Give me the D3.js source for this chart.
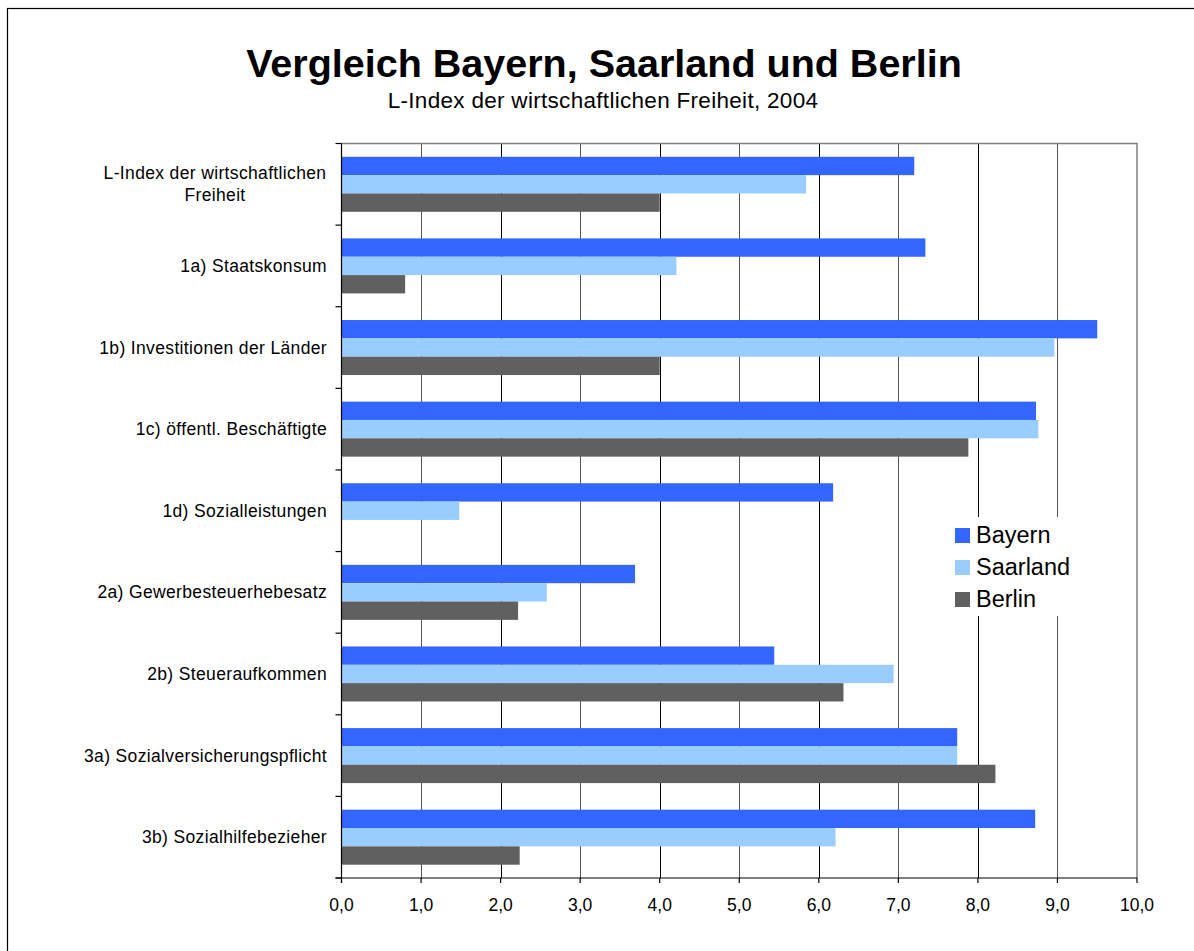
<!DOCTYPE html>
<html>
<head>
<meta charset="utf-8">
<script src="https://cdn.jsdelivr.net/npm/d3@7"></script>
<style>
  body { margin: 0; background: #fff; }
  text { font-family: "Liberation Sans", Arial, sans-serif; fill: #000; }
</style>
</head>
<body>
<div id="chart"></div>
<script>
// ==== Data ====
const categories = [
  "L-Index der wirtschaftlichen Freiheit",
  "1a) Staatskonsum",
  "1b) Investitionen der Länder",
  "1c) öffentl. Beschäftigte",
  "1d) Sozialleistungen",
  "2a) Gewerbesteuerhebesatz",
  "2b) Steueraufkommen",
  "3a) Sozialversicherungspflicht",
  "3b) Sozialhilfebezieher"
];
const seriesNames = ["Bayern", "Saarland", "Berlin"];
const bayern   = [7.20, 7.34, 9.50, 8.73, 6.18, 3.69, 5.44, 7.74, 8.72];
const saarland = [5.84, 4.21, 8.96, 8.76, 1.48, 2.58, 6.94, 7.74, 6.21];
const berlin   = [4.00, 0.80, 4.00, 7.88, 0.00, 2.22, 6.31, 8.22, 2.24];
const xTicks = [0, 1, 2, 3, 4, 5, 6, 7, 8, 9, 10];

const colors = { Bayern: "#3366ff", Saarland: "#99ccff", Berlin: "#606060" };

// ==== Setup ====
const width = 1194, height = 951;
const plot = { left: 341.5, right: 1137, top: 143.5, bottom: 878 };

const svg = d3.select("#chart").append("svg")
  .attr("width", width)
  .attr("height", height);

// outer chart frame (runs off right/bottom edge)
svg.append("rect")
  .attr("x", 7.5).attr("y", 8.5)
  .attr("width", 1200).attr("height", 1000)
  .attr("fill", "none").attr("stroke", "#000").attr("stroke-width", 1.2);

// titles
svg.append("text")
  .attr("x", 604).attr("y", 77)
  .attr("text-anchor", "middle")
  .attr("font-size", 39.5).attr("font-weight", "bold")
  .text("Vergleich Bayern, Saarland und Berlin");
svg.append("text")
  .attr("x", 603).attr("y", 108)
  .attr("text-anchor", "middle")
  .attr("font-size", 22.5)
  .attr("letter-spacing", 0.3)
  .text("L-Index der wirtschaftlichen Freiheit, 2004");

// scales
const x = d3.scaleLinear().domain([0, 10]).range([plot.left, plot.right]);
const y = d3.scaleBand().domain(categories)
  .range([plot.top, plot.bottom])
  .paddingInner(0.326).paddingOuter(0.163);
const ySub = d3.scaleBand().domain(seriesNames).range([0, y.bandwidth()]);

const rows = categories.map((c, i) => ({
  cat: c,
  values: [
    { name: "Bayern", v: bayern[i] },
    { name: "Saarland", v: saarland[i] },
    { name: "Berlin", v: berlin[i] }
  ]
}));

// gridlines
svg.append("g").selectAll("line")
  .data(xTicks.slice(1, -1))
  .join("line")
  .attr("x1", d => Math.round(x(d)) + 0.5).attr("x2", d => Math.round(x(d)) + 0.5)
  .attr("y1", plot.top).attr("y2", plot.bottom)
  .attr("stroke", d => d % 2 ? "#555" : "#000").attr("stroke-width", 1);

// plot border top/right (gray)
svg.append("path")
  .attr("d", `M${plot.left},${plot.top}H${plot.right}V${plot.bottom}`)
  .attr("fill", "none").attr("stroke", "#808080").attr("stroke-width", 1.5);

// bars
const groups = svg.append("g").selectAll("g")
  .data(rows)
  .join("g")
  .attr("transform", d => `translate(0,${y(d.cat)})`);

groups.selectAll("rect")
  .data(d => d.values)
  .join("rect")
  .attr("x", x(0))
  .attr("y", d => ySub(d.name))
  .attr("width", d => x(d.v) - x(0))
  .attr("height", ySub.bandwidth())
  .attr("fill", d => colors[d.name]);

// left axis with ticks at category boundaries
const step = y.step();
const boundaries = categories.map(c => y(c) - step * y.paddingInner() / 2)
  .concat([y(categories[categories.length - 1]) + y.bandwidth() + step * y.paddingInner() / 2]);

svg.append("line")
  .attr("x1", plot.left).attr("x2", plot.left)
  .attr("y1", plot.top).attr("y2", plot.bottom + 5)
  .attr("stroke", "#000").attr("stroke-width", 1.2);
svg.append("g").selectAll("line")
  .data(boundaries)
  .join("line")
  .attr("x1", plot.left - 6).attr("x2", plot.left)
  .attr("y1", d => d).attr("y2", d => d)
  .attr("stroke", "#000").attr("stroke-width", 1.2);

// bottom axis
svg.append("line")
  .attr("x1", plot.left - 6).attr("x2", plot.right)
  .attr("y1", plot.bottom).attr("y2", plot.bottom)
  .attr("stroke", "#000").attr("stroke-width", 1.2);
svg.append("g").selectAll("line")
  .data(xTicks)
  .join("line")
  .attr("x1", d => x(d)).attr("x2", d => x(d))
  .attr("y1", plot.bottom).attr("y2", plot.bottom + 5)
  .attr("stroke", "#000").attr("stroke-width", 1.2);
svg.append("g").selectAll("text")
  .data(xTicks)
  .join("text")
  .attr("x", d => x(d)).attr("y", 911)
  .attr("text-anchor", "middle")
  .attr("font-size", 17.5)
  .text(d => d3.format(".1f")(d).replace(".", ","));

// category labels (first one wraps onto two centered lines)
const labelFont = 17.5;
const labels = svg.append("g")
  .attr("font-size", labelFont)
  .attr("letter-spacing", 0.35);
categories.forEach((c, i) => {
  const cy = y(c) + y.bandwidth() / 2;
  if (i === 0) {
    const t = labels.append("text")
      .attr("text-anchor", "middle");
    t.append("tspan").attr("x", 215).attr("y", cy - 5).text("L-Index der wirtschaftlichen");
    t.append("tspan").attr("x", 215).attr("y", cy + 17).text("Freiheit");
  } else {
    labels.append("text")
      .attr("x", 327).attr("y", cy + 6)
      .attr("text-anchor", "end")
      .text(c);
  }
});

// legend
const legend = svg.append("g").attr("transform", "translate(943,517)");
legend.append("rect")
  .attr("width", 150).attr("height", 99)
  .attr("fill", "#fff");
seriesNames.forEach((s, i) => {
  legend.append("rect")
    .attr("x", 12).attr("y", 11 + i * 32)
    .attr("width", 15).attr("height", 15)
    .attr("fill", colors[s]);
  legend.append("text")
    .attr("x", 33).attr("y", 26 + i * 32)
    .attr("font-size", 23.5)
    .text(s);
});
</script>
</body>
</html>
